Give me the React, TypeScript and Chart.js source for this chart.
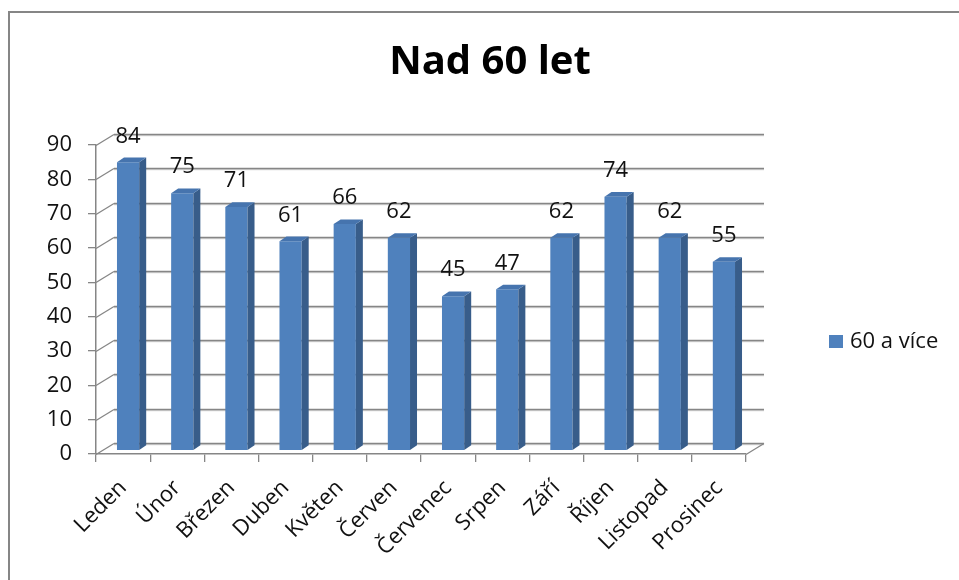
import React, { useEffect, useRef } from "react";
import { Chart, registerables } from "chart.js";

Chart.register(...registerables);

const TITLE = "Nad 60 let";
const SERIES_LABEL = "60 a více";
const categories = [
  "Leden", "Únor", "Březen", "Duben", "Květen", "Červen",
  "Červenec", "Srpen", "Září", "Říjen", "Listopad", "Prosinec",
];
const values = [84, 75, 71, 61, 66, 62, 45, 47, 62, 74, 62, 55];
const yTicks = [0, 10, 20, 30, 40, 50, 60, 70, 80, 90];

// styling / 3D geometry
const FONT = "'Open Sans', 'DejaVu Sans', sans-serif";
const TEXT = "#111111";
const FRONT = "#4F81BD";
const SIDE = "#385D8A";
const TOP = "#4674AE";
const GRID = "#868686";
const GRID_LIGHT = "#c8c8c8";
const BACK_DX = 18;
const BACK_DY = -12;
const BAR_DX = 5;
const BAR_DY = -3.3;
const DEPTH_DX = 7;
const DEPTH_DY = -4.7;

function line(ctx: CanvasRenderingContext2D, x1: number, y1: number, x2: number, y2: number) {
  ctx.strokeStyle = GRID;
  ctx.lineWidth = 1.3;
  ctx.beginPath();
  ctx.moveTo(x1, y1);
  ctx.lineTo(x2, y2);
  ctx.stroke();
}

const threeD = {
  id: "threeD",
  beforeDraw(chart: any) {
    const { ctx } = chart;
    ctx.save();
    ctx.fillStyle = "#ffffff";
    ctx.fillRect(0, 0, chart.width, chart.height);
    ctx.fillStyle = "#868686";
    ctx.fillRect(8, 11, 2, chart.height);
    ctx.fillRect(8, 11, chart.width, 2);
    // title
    ctx.fillStyle = "#000000";
    ctx.font = `bold 40px ${FONT}`;
    ctx.textAlign = "center";
    ctx.textBaseline = "middle";
    ctx.fillText(TITLE, 490, 63);
    ctx.restore();
  },
  beforeDatasetsDraw(chart: any) {
    const { ctx, chartArea } = chart;
    const { left, right } = chartArea;
    const y = chart.scales.y;
    ctx.save();
    for (const v of yTicks) {
      const py = Math.round(y.getPixelForValue(v)) + 0.5;
      const by = Math.round(py + BACK_DY) + 0.5;
      ctx.strokeStyle = GRID_LIGHT;
      ctx.lineWidth = 1;
      ctx.beginPath();
      ctx.moveTo(left + BACK_DX, by + 1.2);
      ctx.lineTo(right + BACK_DX, by + 1.2);
      ctx.stroke();
      line(ctx, left, py, left + BACK_DX, by);
      line(ctx, left + BACK_DX, by, right + BACK_DX, by);
    }
    const y0 = Math.round(y.getPixelForValue(0)) + 0.5;
    line(ctx, right, y0, right + BACK_DX, Math.round(y0 + BACK_DY) + 0.5);
    ctx.restore();
    ctx.save();
    ctx.translate(BAR_DX, BAR_DY);
  },
  afterDatasetsDraw(chart: any) {
    const { ctx } = chart;
    const meta = chart.getDatasetMeta(0);
    meta.data.forEach((bar: any) => {
      const { x, y, base, width } = bar.getProps(["x", "y", "base", "width"], true);
      const l = x - width / 2;
      const r = x + width / 2;
      ctx.fillStyle = SIDE;
      ctx.beginPath();
      ctx.moveTo(r, y);
      ctx.lineTo(r + DEPTH_DX, y + DEPTH_DY);
      ctx.lineTo(r + DEPTH_DX, base + DEPTH_DY);
      ctx.lineTo(r, base);
      ctx.closePath();
      ctx.fill();
      ctx.fillStyle = TOP;
      ctx.beginPath();
      ctx.moveTo(l, y);
      ctx.lineTo(l + DEPTH_DX, y + DEPTH_DY);
      ctx.lineTo(r + DEPTH_DX, y + DEPTH_DY);
      ctx.lineTo(r, y);
      ctx.closePath();
      ctx.fill();
    });
    ctx.fillStyle = TEXT;
    ctx.font = `22px ${FONT}`;
    ctx.textAlign = "center";
    ctx.textBaseline = "middle";
    meta.data.forEach((bar: any, i: number) => {
      const { x, y } = bar.getProps(["x", "y"], true);
      ctx.fillText(String(values[i]), x, y - 26);
    });
    ctx.restore();
  },
  afterDraw(chart: any) {
    const { ctx } = chart;
    const ds = chart.data.datasets[0];
    ctx.save();
    ctx.fillStyle = ds.backgroundColor;
    ctx.fillRect(829, 335, 14, 13);
    ctx.fillStyle = TEXT;
    ctx.font = `22px ${FONT}`;
    ctx.textAlign = "left";
    ctx.textBaseline = "middle";
    ctx.fillText(ds.label, 850, 341.5);
    ctx.restore();
  },
};

export default function App() {
  const ref = useRef<HTMLCanvasElement | null>(null);
  useEffect(() => {
    if (!ref.current) return;
    const chart = new Chart(ref.current, {
      type: "bar",
      data: {
        labels: categories,
        datasets: [
          {
            label: SERIES_LABEL,
            data: values,
            backgroundColor: FRONT,
            borderWidth: 0,
            categoryPercentage: 1,
            barPercentage: 0.41,
            clip: false as any,
          },
        ],
      },
      options: {
        responsive: false,
        animation: false,
        events: [],
        layout: { padding: { left: 20, top: 145, right: 213, bottom: 0 } },
        plugins: {
          legend: { display: false },
          title: { display: false },
          tooltip: { enabled: false },
        },
        scales: {
          x: {
            afterFit: (s: any) => { s.height = 126; },
            grid: {
              offset: true,
              drawOnChartArea: false,
              drawTicks: true,
              tickLength: 8,
              color: "#868686",
              lineWidth: 1.3,
            },
            border: { display: true, color: "#868686", width: 1.5 },
            ticks: {
              autoSkip: false,
              minRotation: 45,
              maxRotation: 45,
              padding: 13,
              color: TEXT,
              font: { family: FONT, size: 22 },
            },
          },
          y: {
            min: 0,
            max: 90,
            afterFit: (s: any) => { s.width = 76; },
            ticks: {
              stepSize: 10,
              padding: 16,
              color: TEXT,
              font: { family: FONT, size: 22 },
            },
            grid: {
              drawOnChartArea: false,
              drawTicks: true,
              tickLength: 8,
              color: "#868686",
              lineWidth: 1.3,
            },
            border: { display: true, color: "#868686", width: 1.5 },
          },
        },
      },
      plugins: [threeD],
    });
    return () => chart.destroy();
  }, []);
  return (
    <div style={{ position: "fixed", left: 0, top: 0, width: 959, height: 580 }}>
      <canvas ref={ref} width={959} height={580} style={{ display: "block" }} />
    </div>
  );
}
